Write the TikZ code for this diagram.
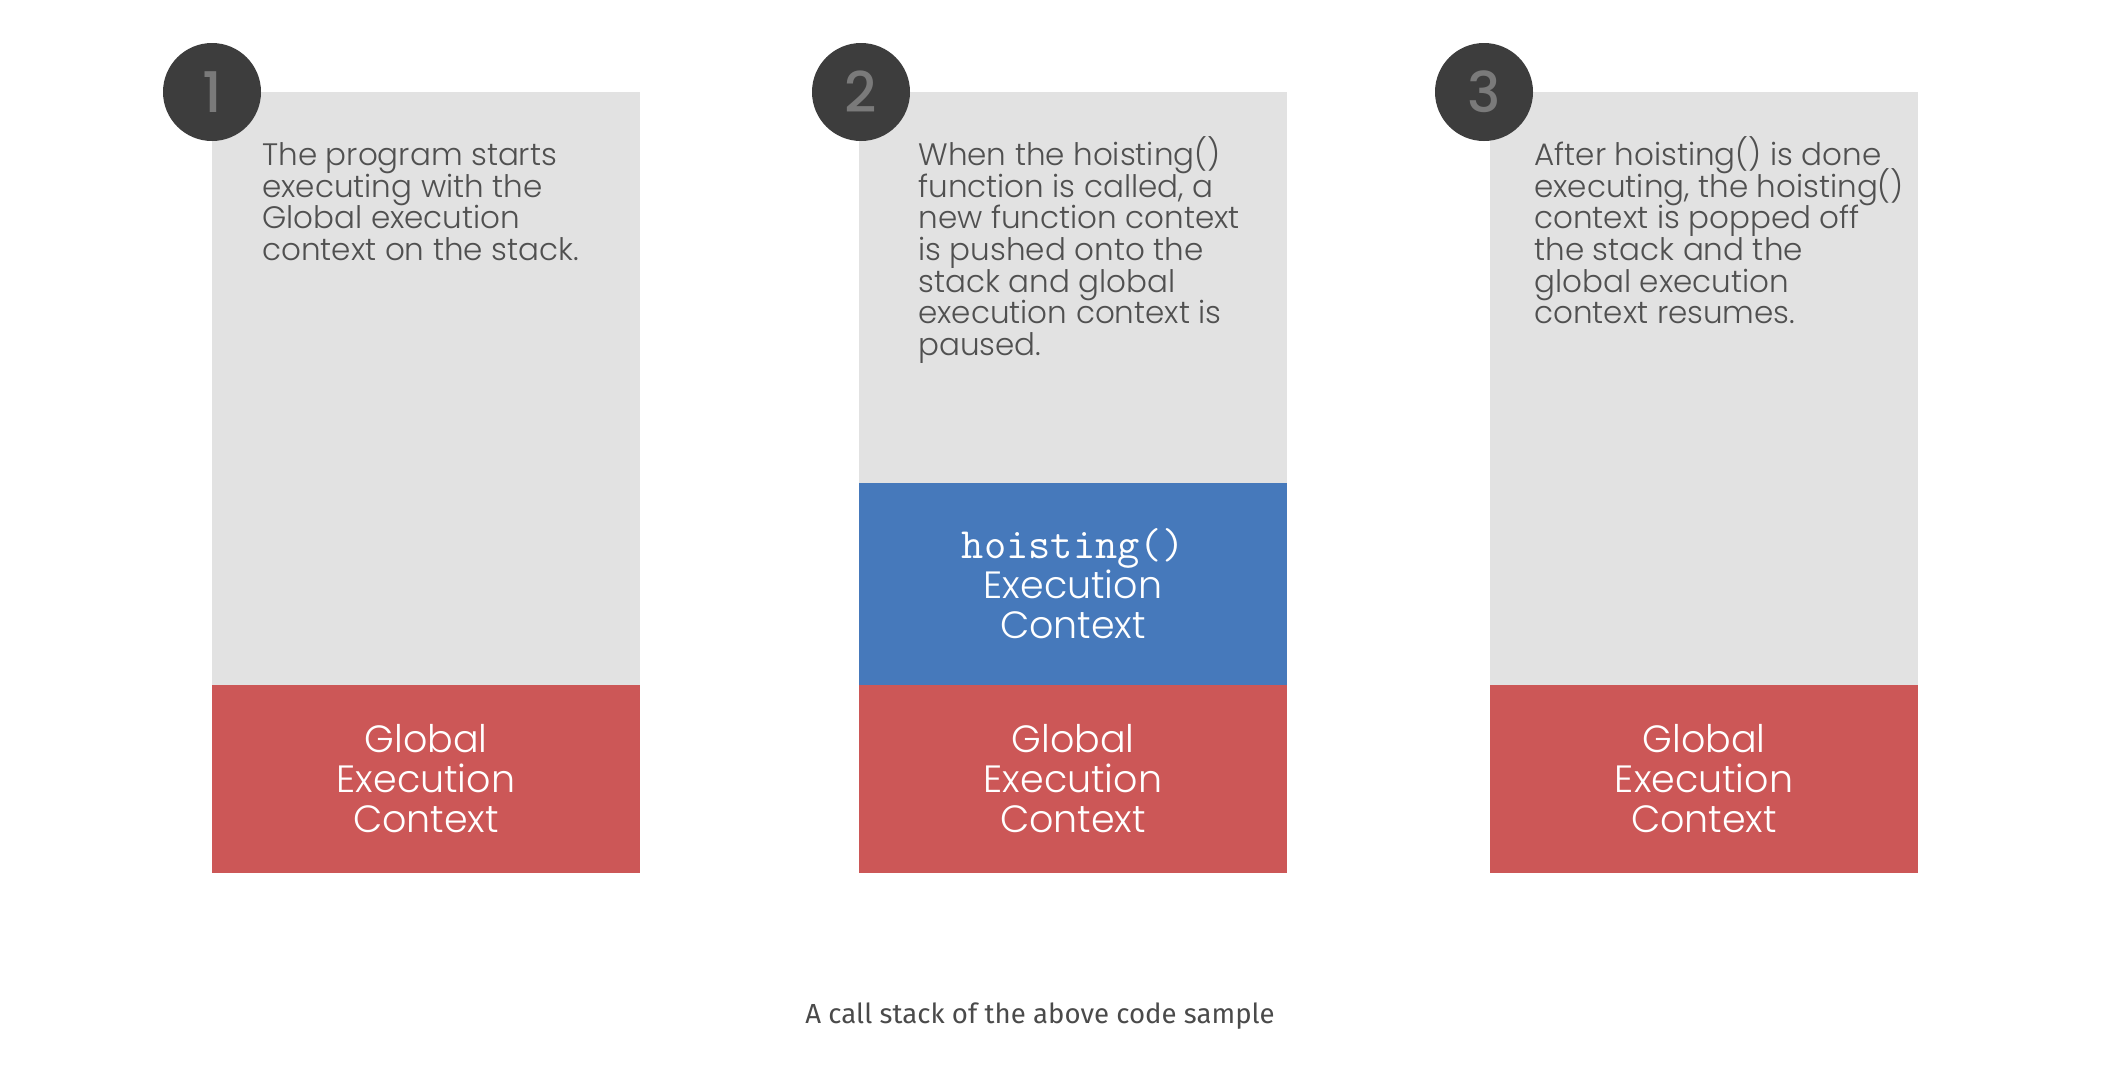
\documentclass[tikz,border=0pt]{standalone}
\usepackage{fontspec}
\setmainfont{Poppins}[UprightFont={* Light},BoldFont={* Medium}]
\newfontfamily\capfont{Fira Sans}
\definecolor{boxgray}{HTML}{E2E2E2}
\definecolor{ctxred}{HTML}{CC5757}
\definecolor{ctxblue}{HTML}{4679BB}
\definecolor{circ}{HTML}{3D3D3D}
\definecolor{numc}{HTML}{7A7A7A}
\definecolor{desctext}{HTML}{505050}
\definecolor{captext}{HTML}{4A4A4A}
\newcommand{\firstline}{\rule{0pt}{15pt}}
\newcommand{\tightlines}{\setlength{\lineskiplimit}{-20pt}\setlength{\lineskip}{0pt}}
\begin{document}
\begin{tikzpicture}[x=0.5pt,y=-0.5pt,
  desc/.style={anchor=north west, inner sep=0pt, align=left, text=desctext,
    font=\fontsize{15.5}{15.85}\selectfont\tightlines},
  biglabel/.style={align=center, inner sep=0pt, text=white,
    font=\fontsize{19}{20}\selectfont\tightlines},
  numcirc/.style={circle, fill=circ, minimum size=49pt, inner sep=0pt, text=numc,
    font=\bfseries\fontsize{28}{28}\selectfont}]
\useasboundingbox[fill=white] (0,0) rectangle (2120,1072);
% stack 1
\fill[boxgray] (212,92) rectangle (640,685);
\fill[ctxred] (212,685) rectangle (640,873);
% stack 2
\fill[boxgray] (859,92) rectangle (1287,483);
\fill[ctxblue] (859,483) rectangle (1287,685);
\fill[ctxred] (859,685) rectangle (1287,873);
% stack 3
\fill[boxgray] (1490,92) rectangle (1918,685);
\fill[ctxred] (1490,685) rectangle (1918,873);
% labels
\node[biglabel] (g1) at (426,779) {Global\\Execution\\Context};
\node[biglabel] (h2) at (1073,584) {{\ttfamily\fontsize{21.6}{20}\selectfont hoisting()}\\Execution\\Context};
\node[biglabel] (g2) at (1073,779) {Global\\Execution\\Context};
\node[biglabel] (g3) at (1704,779) {Global\\Execution\\Context};
% descriptions
\node[desc] (d1) at (262,135) {\firstline The program starts\\executing with the\\Global execution\\context on the stack.};
\node[desc] (d2) at (918,135) {\firstline When the hoisting()\\function is called, a\\new function context\\is pushed onto the\\stack and global\\execution context is\\paused.};
\node[desc] (d3) at (1534,135) {\firstline After hoisting() is done\\executing, the hoisting()\\context is popped off\\the stack and the\\global execution\\context resumes.};
% numbers
\node[numcirc] (n1) at (212,92) {1};
\node[numcirc] (n2) at (861,92) {2};
\node[numcirc] (n3) at (1484,92) {3};
% caption
\node[anchor=base, inner sep=0pt, text=captext, font=\capfont\fontsize{13.8}{16}\selectfont] (cap) at (1040,1023) {A call stack of the above code sample};
\end{tikzpicture}
\end{document}
